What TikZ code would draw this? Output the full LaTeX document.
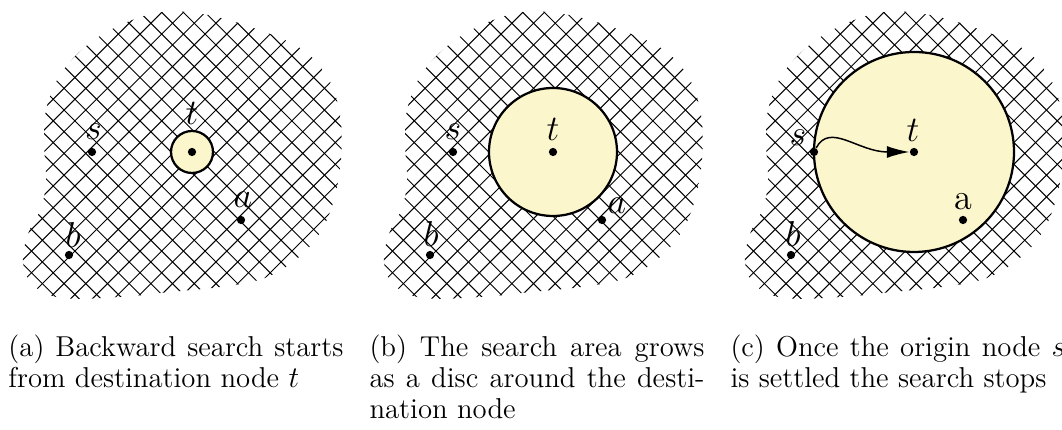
\documentclass[tikz,border=0pt]{standalone}
\usetikzlibrary{arrows.meta}
\definecolor{discfill}{RGB}{252,246,204}
\begin{document}
\begin{tikzpicture}[x=0.4pt,y=-0.4pt,
  hatchline/.style={line width=0.4pt},
  discshape/.style={fill=discfill,draw=black,line width=0.9pt},
  dotnode/.style={circle,fill=black,inner sep=0pt,minimum size=3.3pt},
  lbl/.style={inner sep=0pt,anchor=center,font=\fontsize{14.5}{17}\selectfont},
  captext/.style={anchor=base west,inner sep=0pt,font=\fontsize{11.5}{12.4}\selectfont}]
\useasboundingbox (0,0) rectangle (1062,430);
% hatched regions
\foreach \ox in {0,361,722}{
  \begin{scope}[shift={(\ox,0)}]
    \clip plot[smooth cycle,tension=0.6] coordinates {(163,12) (208,15) (262,31) (303,50) (328,78) (340,115) (341,160) (333,203) (318,236) (293,262) (262,279) (220,287) (170,292) (120,297) (62,298) (33,285) (23,262) (28,234) (41,208) (46,180) (44,140) (47,106) (62,72) (90,43) (125,23)};
    \foreach \i in {-14,...,20}{
      \draw[hatchline] ({-67.7+21.7*\i-20},-20) -- ({-67.7+21.7*\i+330},330);
      \draw[hatchline] ({304.3+21.7*\i+20},-20) -- ({304.3+21.7*\i-330},330);
    }
  \end{scope}
}
% discs
\draw[discshape] (192,152) circle[radius=21];
\draw[discshape] (553,152) circle[radius=64];
\draw[discshape] (914,152) circle[radius=100];
% panel a
\node[dotnode] (s1) at (92,152) {};
\node[dotnode] (t1) at (192,152) {};
\node[dotnode] (a1) at (241,220) {};
\node[dotnode] (b1) at (69,255) {};
\node[lbl] (ls1) at (93.5,132) {$s$};
\node[lbl] (lt1) at (192,113) {$t$};
\node[lbl] (la1) at (243,200) {$a$};
\node[lbl] (lb1) at (73,235) {$b$};
% panel b
\node[dotnode] (s2) at (453,152) {};
\node[dotnode] (t2) at (553,152) {};
\node[dotnode] (a2) at (602,220) {};
\node[dotnode] (b2) at (430,255) {};
\node[lbl] (ls2) at (453,132) {$s$};
\node[lbl] (lt2) at (553,129) {$t$};
\node[lbl] (la2) at (617,206) {$a$};
\node[lbl] (lb2) at (431,234) {$b$};
% panel c
\node[dotnode] (s3) at (814,152) {};
\node[dotnode] (t3) at (914,152) {};
\node[dotnode] (a3) at (963,220) {};
\node[dotnode] (b3) at (791,255) {};
\node[lbl] (ls3) at (798,138) {$s$};
\node[lbl] (lt3) at (913,130) {$t$};
\node[lbl] (la3) at (963,202) {a};
\node[lbl] (lb3) at (793,234) {$b$};
\draw[-{Latex[length=9pt,width=4.8pt]},line width=0.6pt] (s3) .. controls (830,122) and (858,152) .. (t3);
% captions
\node[captext] (ca1) at (8,357) {\makebox[134pt][s]{(a) Backward search starts}};
\node[captext] (ca2) at (8,388) {from destination node $t$};
\node[captext] (cb1) at (369,357) {\makebox[134pt][s]{(b) The search area grows}};
\node[captext] (cb2) at (369,388) {\makebox[134pt][s]{as a disc around the desti-}};
\node[captext] (cb3) at (369,419) {nation node};
\node[captext] (cc1) at (730,357) {\makebox[134pt][s]{(c) Once the origin node $s$}};
\node[captext] (cc2) at (730,388) {is settled the search stops};
\end{tikzpicture}
\end{document}
